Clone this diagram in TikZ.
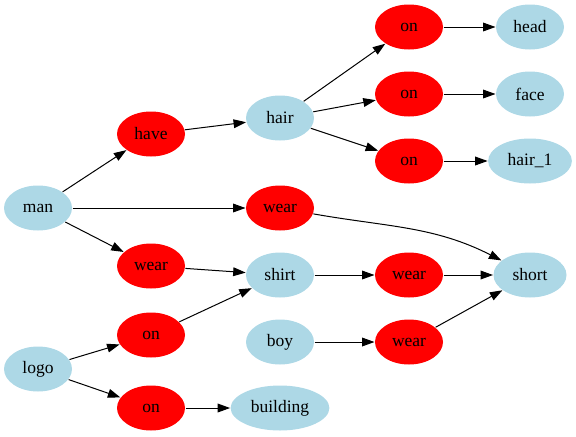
\documentclass[tikz,border=0pt]{standalone}
\usepackage{fontspec}
\setmainfont{Liberation Serif}
\usetikzlibrary{positioning,shapes.geometric,arrows.meta}
\definecolor{lightblue}{RGB}{173,216,230}

\begin{document}
\begin{tikzpicture}[x=0.8pt,y=-0.8pt,
  ent/.style={ellipse, fill=lightblue, minimum width=54.4pt, minimum height=36pt, inner sep=0pt, font=\fontsize{14}{16}\selectfont},
  rel/.style={ent, fill=red},
  every path/.style={line width=0.8pt},
  >={Triangle[length=10pt,width=7pt]}]
\useasboundingbox (0,0) rectangle (576,436);
%subjects
\node[ent] (man) at (38,208) {man};
\node[ent] (logo) at (38,369) {logo};
%first relations
\node[rel] (have) at (151,134) {have};
\node[rel] (wearB) at (280,208) {wear};
\node[rel] (wearA) at (151,266) {wear};
\node[rel] (onC) at (151,335) {on};
\node[rel] (onD) at (151,408) {on};
%middle column
\node[ent] (hair) at (280,118) {hair};
\node[ent] (shirt) at (280,275) {shirt};
\node[ent] (boy) at (280,342) {boy};
\node[ent, minimum width=79pt] (building) at (280,408) {building};
%second relations
\node[rel] (onHead) at (409,27) {on};
\node[rel] (onFace) at (409,94) {on};
\node[rel] (onHair) at (409,161) {on};
\node[rel] (wearS) at (409,275) {wear};
\node[rel] (wearY) at (409,342) {wear};
%objects
\node[ent] (head) at (530,27) {head};
\node[ent] (face) at (530,94) {face};
\node[ent, minimum width=67pt] (hairOne) at (530,161) {hair\_1};
\node[ent, minimum width=58.4pt] (short) at (530,275) {short};
%
\draw[->] (man) -- (have);
\draw[->] (man) -- (wearB);
\draw[->] (man) -- (wearA);
\draw[->] (logo) -- (onC);
\draw[->] (logo) -- (onD);
\draw[->] (have) -- (hair);
\draw[->] (wearA) -- (shirt);
\draw[->] (onC) -- (shirt);
\draw[->] (onD) -- (building);
\draw[->] (hair) -- (onHead);
\draw[->] (hair) -- (onFace);
\draw[->] (hair) -- (onHair);
\draw[->] (shirt) -- (wearS);
\draw[->] (boy) -- (wearY);
\draw[->] (onHead) -- (head);
\draw[->] (onFace) -- (face);
\draw[->] (onHair) -- (hairOne);
\draw[->] (wearS) -- (short);
\draw[->] (wearY) -- (short);
\draw[->] (wearB) to[out=-10,in=153] (short);
\end{tikzpicture}
\end{document}
